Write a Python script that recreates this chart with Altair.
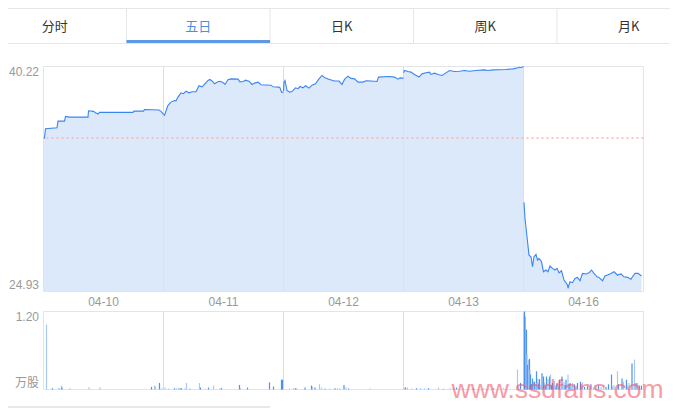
import altair as alt
import pandas as pd

# ---------------- data ----------------
TABS = ["分时", "五日", "日K", "周K", "月K"]
ACTIVE_TAB = "五日"
DAYS = ["04-10", "04-11", "04-12", "04-13", "04-16"]
MINUTES_PER_DAY = 240
PRICE_MAX = 40.22
PRICE_MIN = 24.93
PREV_CLOSE = 35.36
VOL_MAX = 1.20
WATERMARK = "www.ssdfans.com"

D1_MIN = [0, 2, 4, 27, 29, 42, 44, 52, 89, 90, 100, 104, 109, 112, 179, 181, 200, 202, 231, 235, 240]
D1_PRICE = [35.36, 35.36, 35.99, 36.06, 36.51, 36.51, 36.83, 36.78, 36.78, 37.21, 37.17, 37.08, 36.99,
            37.10, 37.10, 37.19, 37.19, 37.30, 37.26, 37.17, 36.97]

D2_MIN = [0, 2, 6, 9, 15, 22, 25, 29, 35, 40, 45, 51, 57, 65, 71, 77, 82, 89, 93, 99, 102, 109, 113, 119,
          123, 129, 135, 149, 153, 160, 164, 171, 177, 182, 189, 195, 215, 219, 231, 233, 236, 240]
D2_PRICE = [36.95, 36.90, 37.30, 37.58, 37.80, 37.91, 37.89, 38.14, 38.43, 38.37, 38.55, 38.43, 38.50,
            38.50, 38.91, 38.84, 39.00, 39.27, 39.34, 39.18, 39.05, 39.18, 39.22, 39.14, 39.00, 39.32,
            39.38, 39.36, 39.18, 39.20, 39.29, 39.22, 39.00, 39.09, 39.16, 38.98, 38.95, 38.84, 38.82,
            38.77, 38.48, 38.48]

D3_MIN = [0, 1, 3, 5, 7, 12, 17, 24, 29, 33, 39, 44, 51, 57, 64, 71, 77, 84, 92, 102, 111, 117, 122, 129,
          135, 142, 149, 159, 165, 175, 187, 190, 212, 222, 229, 233, 237, 240]
D3_PRICE = [38.55, 39.16, 39.27, 38.93, 38.59, 38.48, 38.52, 38.77, 38.71, 38.86, 38.77, 38.91, 38.75,
            38.95, 39.05, 39.38, 39.61, 39.43, 39.34, 39.23, 39.23, 39.00, 39.34, 39.56, 39.41, 39.38,
            39.16, 39.16, 39.25, 39.23, 39.20, 39.50, 39.54, 39.50, 39.36, 39.45, 39.43, 39.43]

D4_MIN = [0, 2, 9, 15, 22, 31, 37, 45, 52, 55, 62, 69, 77, 84, 92, 102, 112, 122, 132, 145, 162, 169,
          179, 205, 219, 229, 237, 240]
D4_PRICE = [39.80, 39.95, 39.88, 39.84, 39.68, 39.50, 39.72, 39.79, 39.84, 39.68, 39.77, 39.68, 39.61,
            39.77, 39.95, 39.88, 39.90, 39.95, 39.90, 39.95, 39.99, 39.95, 39.99, 40.02, 40.06, 40.13,
            40.17, 40.22]

D5_MIN = [0, 1, 3, 7, 11, 15, 18, 21, 25, 28, 31, 36, 40, 45, 49, 53, 58, 63, 67, 71, 76, 81, 88, 89, 93,
          98, 103, 108, 113, 118, 125, 131, 136, 141, 147, 151, 158, 163, 168, 175, 181, 188, 195, 201,
          208, 215, 218, 223, 229, 236]
D5_PRICE = [30.95, 30.95, 29.89, 28.65, 27.40, 27.29, 26.61, 27.29, 27.45, 27.06, 27.18, 26.95, 26.27,
            26.39, 26.27, 26.66, 26.50, 26.39, 26.50, 26.20, 26.34, 25.71, 25.37, 25.15, 25.59, 25.53,
            25.82, 25.89, 25.66, 26.16, 26.12, 26.20, 26.39, 26.16, 25.93, 25.89, 25.66, 25.98, 26.05,
            26.16, 26.27, 26.05, 26.12, 25.93, 25.89, 25.76, 25.93, 26.16, 26.16, 25.98]

# volume (minute of day, 万股, u = light / d = dark)
VOL_D1 = [(6, 1.00, "u"), (18, 0.02, "d"), (30, 0.02, "u"), (32, 0.02, "u"), (36, 0.06, "u"),
          (37, 0.03, "d"), (53, 0.02, "u"), (91, 0.035, "u"), (113, 0.035, "u"), (216, 0.04, "d"),
          (222, 0.06, "u"), (224, 0.05, "u"), (232, 0.10, "d"), (237, 0.02, "u")]
VOL_D2 = [(3, 0.03, "u"), (10, 0.015, "u"), (22, 0.02, "d"), (26, 0.02, "u"), (30, 0.02, "u"),
          (33, 0.02, "d"), (36, 0.02, "d"), (43, 0.02, "u"), (46, 0.10, "u"), (53, 0.01, "d"),
          (72, 0.10, "u"), (74, 0.03, "d"), (83, 0.01, "u"), (90, 0.03, "d"), (100, 0.06, "u"),
          (113, 0.02, "u"), (116, 0.02, "d"), (152, 0.07, "d"), (154, 0.02, "u"), (168, 0.03, "d"),
          (212, 0.11, "d"), (220, 0.045, "d"), (236, 0.15, "d"), (237, 0.15, "d"), (238, 0.15, "d")]
VOL_D3 = [(12, 0.015, "u"), (20, 0.02, "u"), (24, 0.02, "d"), (26, 0.02, "u"), (43, 0.03, "d"),
          (56, 0.06, "d"), (58, 0.04, "u"), (63, 0.03, "d"), (72, 0.08, "u"), (76, 0.03, "u"),
          (83, 0.01, "d"), (93, 0.015, "u"), (103, 0.02, "d"), (108, 0.02, "u"), (113, 0.02, "u"),
          (121, 0.07, "d"), (125, 0.03, "u"), (130, 0.015, "d"), (173, 0.015, "u")]
VOL_D4 = [(1, 0.03, "u"), (4, 0.03, "d"), (8, 0.03, "u"), (16, 0.015, "u"), (26, 0.02, "d"),
          (34, 0.02, "u"), (42, 0.02, "u"), (50, 0.02, "d"), (70, 0.03, "u"), (80, 0.01, "d"),
          (93, 0.02, "u"), (100, 0.03, "u"), (106, 0.03, "d"), (120, 0.02, "u"), (140, 0.02, "d"),
          (160, 0.02, "u"), (180, 0.02, "d"), (200, 0.02, "u"), (228, 0.31, "u"), (230, 0.05, "u"),
          (234, 0.10, "d")]
VOL_D5 = [(1, 1.16, "u"), (2, 1.20, "d"), (3, 1.12, "d"), (6, 0.92, "d"), (7, 0.55, "u"), (8, 0.38, "d"),
          (10, 0.46, "u"), (12, 0.47, "d"), (13, 0.30, "u"), (14, 0.23, "d"), (16, 0.08, "d"),
          (18, 0.17, "d"), (20, 0.12, "u"), (22, 0.12, "d"), (24, 0.08, "u"), (26, 0.28, "d"),
          (27, 0.10, "u"), (29, 0.17, "u"), (30, 0.09, "d"), (32, 0.16, "d"), (34, 0.07, "u"),
          (37, 0.25, "d"), (40, 0.20, "d"), (42, 0.11, "u"), (44, 0.06, "d"), (46, 0.20, "d"),
          (47, 0.08, "u"), (49, 0.16, "u"), (52, 0.20, "d"), (54, 0.23, "u"), (56, 0.07, "d"),
          (58, 0.10, "d"), (60, 0.05, "u"), (62, 0.13, "u"), (65, 0.06, "d"), (67, 0.10, "d"),
          (70, 0.05, "u"), (72, 0.15, "d"), (77, 0.20, "d"), (79, 0.06, "u"), (81, 0.12, "u"),
          (83, 0.07, "d"), (85, 0.15, "d"), (89, 0.23, "u"), (91, 0.08, "d"), (93, 0.10, "d"),
          (96, 0.05, "u"), (98, 0.10, "u"), (102, 0.08, "d"), (106, 0.06, "u"), (108, 0.10, "d"),
          (114, 0.12, "d"), (116, 0.05, "u"), (118, 0.11, "u"), (122, 0.04, "d"), (128, 0.05, "d"),
          (135, 0.08, "d"), (140, 0.04, "u"), (143, 0.07, "u"), (150, 0.06, "d"), (155, 0.04, "u"),
          (160, 0.07, "u"), (165, 0.04, "d"), (170, 0.08, "d"), (176, 0.23, "d"), (178, 0.05, "u"),
          (181, 0.07, "u"), (188, 0.28, "u"), (190, 0.08, "d"), (197, 0.17, "d"), (200, 0.12, "u"),
          (206, 0.15, "d"), (208, 0.06, "u"), (211, 0.10, "u"), (217, 0.40, "d"), (219, 0.08, "u"),
          (222, 0.46, "u"), (225, 0.10, "d"), (228, 0.10, "u"), (232, 0.06, "d"), (236, 0.06, "d")]

PRICE_MINS = [D1_MIN, D2_MIN, D3_MIN, D4_MIN, D5_MIN]
PRICE_VALS = [D1_PRICE, D2_PRICE, D3_PRICE, D4_PRICE, D5_PRICE]
VOLS = [VOL_D1, VOL_D2, VOL_D3, VOL_D4, VOL_D5]

# ---------------- layout / style ----------------
W = 600
H = 323
PRICE_H = 225
VOL_TOP = 245
TOTAL = MINUTES_PER_DAY * len(DAYS)

LINE_BLUE = "#3a85f2"
AREA_FILL = "#d3e4fa"
GRID = "#dcdcdc"
FRAME = "#e1e4e8"
LABEL = "#999999"
VOL_LIGHT = "#a6c9f7"
VOL_DARK = "#4d92ee"
TAB_BLUE = "#4a8fe0"
TAB_DARK = "#333333"
TAB_LINE = "#e6e6e6"
FONT = "Liberation Sans, Noto Sans CJK SC"
CJK = "Noto Sans CJK SC"

price_rows = []
for d, (mins, vals) in enumerate(zip(PRICE_MINS, PRICE_VALS)):
    for m, p in zip(mins, vals):
        price_rows.append({"day": DAYS[d], "g": d * MINUTES_PER_DAY + m, "price": p})
price_df = pd.DataFrame(price_rows)

vol_rows = []
for d, lst in enumerate(VOLS):
    for m, v, k in lst:
        vol_rows.append({"g": d * MINUTES_PER_DAY + m, "vol": v, "dir": k})
vol_df = pd.DataFrame(vol_rows)

sep_df = pd.DataFrame({"g": [MINUTES_PER_DAY * i for i in range(1, len(DAYS))]})
day_df = pd.DataFrame({"day": DAYS,
                       "c": [MINUTES_PER_DAY * i + MINUTES_PER_DAY / 2 for i in range(len(DAYS))]})
frame_df = pd.DataFrame({"x0": [0], "x1": [TOTAL], "p0": [PRICE_MIN], "p1": [PRICE_MAX],
                         "v0": [0.0], "v1": [VOL_MAX]})
tab_df = pd.DataFrame({"tab": TABS, "col": [TAB_BLUE if t == ACTIVE_TAB else TAB_DARK for t in TABS]})

x_scale = alt.Scale(domain=[0, TOTAL], range=[0, W], nice=False, zero=False)
py_scale = alt.Scale(domain=[PRICE_MIN, PRICE_MAX], range=[PRICE_H, 0], nice=False, zero=False)
vy_scale = alt.Scale(domain=[0, VOL_MAX], range=[H, VOL_TOP], nice=False, zero=False)
tab_scale = alt.Scale(domain=TABS, range=[-60.5, 657], paddingInner=0, paddingOuter=0)


def gx(field):
    return alt.X(field, type="quantitative", scale=x_scale, axis=None)


axis_common = dict(domain=False, ticks=False, grid=False, labelColor=LABEL, labelFontSize=12,
                   labelPadding=5, labelFont=FONT, orient="left", title=None, labelFlush=True)

price_frame = alt.Chart(frame_df).mark_rect(fill="transparent", stroke=FRAME, strokeWidth=1).encode(
    x=gx("x0"), x2="x1:Q",
    y=alt.Y("p0:Q", scale=py_scale, axis=None), y2="p1:Q")
vol_frame = alt.Chart(frame_df).mark_rect(fill="transparent", stroke=FRAME, strokeWidth=1).encode(
    x=gx("x0"), x2="x1:Q",
    y=alt.Y("v0:Q", scale=vy_scale, axis=None), y2="v1:Q")

price_sep = alt.Chart(sep_df).mark_rule(color=GRID, strokeWidth=1).encode(
    x=gx("g"), y=alt.datum(PRICE_MIN, scale=py_scale, axis=None), y2=alt.datum(PRICE_MAX))
vol_sep = alt.Chart(sep_df).mark_rule(color=GRID, strokeWidth=1).encode(
    x=gx("g"), y=alt.datum(0, scale=vy_scale, axis=None), y2=alt.datum(VOL_MAX))

area = alt.Chart(price_df).mark_area(color=AREA_FILL, opacity=0.8).encode(
    x=gx("g"),
    y=alt.Y("price:Q", scale=py_scale, stack=False,
            axis=alt.Axis(values=[PRICE_MIN, PRICE_MAX], format=".2f", **axis_common)),
    y2=alt.datum(PRICE_MIN),
    detail="day:N")

prev = alt.Chart(pd.DataFrame({"p": [PREV_CLOSE]})).mark_rule(
    color="#ffb0b0", strokeWidth=1.5, strokeDash=[2, 3]).encode(
    y=alt.Y("p:Q", scale=py_scale, axis=None))

line = alt.Chart(price_df).mark_line(color=LINE_BLUE, strokeWidth=1.1).encode(
    x=gx("g"), y=alt.Y("price:Q", scale=py_scale, axis=None), detail="day:N")

vol = alt.Chart(vol_df).mark_rule(strokeWidth=1.2).encode(
    x=gx("g"),
    y=alt.Y("vol:Q", scale=vy_scale,
            axis=alt.Axis(values=[0, VOL_MAX],
                          labelExpr="datum.value > 0 ? format(datum.value, '.2f') : '万股'",
                          **axis_common)),
    y2=alt.datum(0),
    color=alt.Color("dir:N", scale=alt.Scale(domain=["u", "d"], range=[VOL_LIGHT, VOL_DARK]), legend=None))

dates = alt.Chart(day_df).mark_text(fontSize=12, color=LABEL, font=FONT, baseline="middle").encode(
    x=gx("c"), y=alt.value(235.5), text="day:N")

tab_text = alt.Chart(tab_df).mark_text(fontSize=13, font=CJK, baseline="middle").encode(
    x=alt.X("tab:N", scale=tab_scale, axis=None, sort=TABS),
    y=alt.value(-39.5), text="tab:N", color=alt.Color("col:N", scale=None))

tab_div = alt.Chart(tab_df[tab_df.tab != TABS[0]]).mark_rule(color=TAB_LINE, strokeWidth=1).encode(
    x=alt.X("tab:N", scale=tab_scale, axis=None, sort=TABS, bandPosition=0),
    y=alt.value(-57.5), y2=alt.value(-23.5))

tab_under = alt.Chart(tab_df[tab_df.tab == ACTIVE_TAB]).mark_rect(color="#5b98e6").encode(
    x=alt.X("tab:N", scale=tab_scale, axis=None, sort=TABS),
    y=alt.value(-26.5), y2=alt.value(-23.5))

lines_df = pd.DataFrame({"k": ["top", "bottom"]})
tab_top = alt.Chart(lines_df.iloc[:1]).mark_rule(color=TAB_LINE, strokeWidth=1).encode(
    x=alt.value(-35.5), x2=alt.value(626.5), y=alt.value(-58))
tab_bot = alt.Chart(lines_df.iloc[1:]).mark_rule(color=TAB_LINE, strokeWidth=1).encode(
    x=alt.value(-35.5), x2=alt.value(626.5), y=alt.value(-23))
foot = alt.Chart(lines_df.iloc[:1]).mark_rule(color="#e8e8e8", strokeWidth=2).encode(
    x=alt.value(-35.5), x2=alt.value(226.5), y=alt.value(340.5))

wm = alt.Chart(pd.DataFrame({"t": [WATERMARK]})).mark_text(
    fontSize=26.5, font="Liberation Sans", color="#f25c6e", opacity=0.6, align="left",
    baseline="alphabetic").encode(x=alt.value(408), y=alt.value(331), text="t:N")

chart = alt.layer(
    price_sep, vol_sep, price_frame, vol_frame, area, prev, line, vol, dates,
    tab_top, tab_bot, tab_div, tab_under, tab_text, foot, wm
).resolve_scale(x="independent", y="independent", color="independent").properties(
    width=W, height=H,
    padding={"left": 35.5, "top": 58.5, "right": 26.5, "bottom": 18.5},
    autosize=alt.AutoSizeParams(type="none"),
).configure_view(stroke=None)

chart.save("out.html", embed_options={"renderer": "svg", "actions": False})
